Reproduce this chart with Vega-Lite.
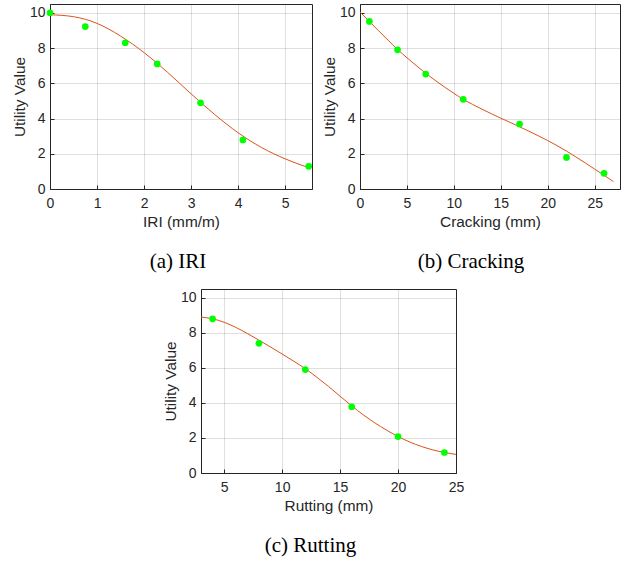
{
  "$schema": "https://vega.github.io/schema/vega-lite/v6.json",
  "background": "white",
  "padding": {"left": 11, "top": 3, "right": 0, "bottom": 0},
  "config": {
    "view": {"stroke": "#262626", "strokeWidth": 1},
    "axis": {
      "labelFont": "Liberation Sans", "titleFont": "Liberation Sans",
      "labelFontSize": 14, "titleFontSize": 15.4, "titleFontWeight": "normal",
      "labelColor": "#262626", "titleColor": "#262626",
      "domainColor": "#262626", "tickColor": "#262626",
      "gridColor": "#262626", "gridOpacity": 0.15,
      "tickSize": -4, "labelFlush": false, "labelOverlap": false
    },
    "axisX": {"labelPadding": 11, "titlePadding": 4},
    "axisY": {"labelPadding": 9, "titlePadding": 2},
    "title": {"font": "Liberation Serif", "fontSize": 21, "fontWeight": "normal", "color": "#000000", "orient": "bottom", "frame": "group", "anchor": "middle", "offset": 22}
  },
  "datasets": {
    "iriPts": [
      {"x": 0, "y": 10}, {"x": 0.75, "y": 9.22}, {"x": 1.6, "y": 8.3}, {"x": 2.28, "y": 7.1},
      {"x": 3.2, "y": 4.89}, {"x": 4.1, "y": 2.78}, {"x": 5.5, "y": 1.29}
    ],
    "iriFit": [
      {"x": 0, "y": 9.89}, {"x": 0.5, "y": 9.78}, {"x": 1, "y": 9.4}, {"x": 1.5, "y": 8.68},
      {"x": 2, "y": 7.74}, {"x": 2.5, "y": 6.62}, {"x": 3, "y": 5.4}, {"x": 3.5, "y": 4.23},
      {"x": 4, "y": 3.19}, {"x": 4.5, "y": 2.35}, {"x": 5, "y": 1.71}, {"x": 5.5, "y": 1.21}
    ],
    "crkPts": [
      {"x": 1, "y": 9.51}, {"x": 4, "y": 7.9}, {"x": 7, "y": 6.52}, {"x": 11, "y": 5.09},
      {"x": 17, "y": 3.69}, {"x": 22, "y": 1.79}, {"x": 26, "y": 0.89}
    ],
    "crkFit": [
      {"x": 0, "y": 10.05}, {"x": 1, "y": 9.5}, {"x": 2, "y": 8.97}, {"x": 3, "y": 8.44},
      {"x": 4, "y": 7.92}, {"x": 5, "y": 7.45}, {"x": 6, "y": 7.0}, {"x": 7, "y": 6.57},
      {"x": 8, "y": 6.17}, {"x": 9, "y": 5.79}, {"x": 10, "y": 5.43}, {"x": 11, "y": 5.09},
      {"x": 12, "y": 4.8}, {"x": 13, "y": 4.53}, {"x": 14, "y": 4.27}, {"x": 15, "y": 4.02},
      {"x": 16, "y": 3.78}, {"x": 17, "y": 3.53}, {"x": 18, "y": 3.28}, {"x": 19, "y": 3.02},
      {"x": 20, "y": 2.75}, {"x": 21, "y": 2.46}, {"x": 22, "y": 2.15}, {"x": 23, "y": 1.82},
      {"x": 24, "y": 1.48}, {"x": 25, "y": 1.13}, {"x": 26, "y": 0.78}, {"x": 27, "y": 0.42}
    ],
    "rutPts": [
      {"x": 4, "y": 8.8}, {"x": 8, "y": 7.4}, {"x": 12, "y": 5.9}, {"x": 16, "y": 3.78},
      {"x": 20, "y": 2.08}, {"x": 24, "y": 1.17}
    ],
    "rutFit": [
      {"x": 3, "y": 8.9}, {"x": 4, "y": 8.8}, {"x": 5, "y": 8.6}, {"x": 6, "y": 8.31},
      {"x": 7, "y": 7.96}, {"x": 8, "y": 7.58}, {"x": 9, "y": 7.19}, {"x": 10, "y": 6.79},
      {"x": 11, "y": 6.38}, {"x": 12, "y": 5.95}, {"x": 13, "y": 5.46}, {"x": 14, "y": 4.94},
      {"x": 15, "y": 4.38}, {"x": 16, "y": 3.83}, {"x": 17, "y": 3.32}, {"x": 18, "y": 2.86},
      {"x": 19, "y": 2.45}, {"x": 20, "y": 2.08}, {"x": 21, "y": 1.77}, {"x": 22, "y": 1.52},
      {"x": 23, "y": 1.32}, {"x": 24, "y": 1.17}, {"x": 25, "y": 1.06}
    ]
  },
  "spacing": 15,
  "vconcat": [
    {
      "spacing": 8,
      "hconcat": [
        {
          "width": 262, "height": 185,
          "title": {"text": "(a) IRI", "dx": -3},
          "encoding": {
            "x": {"field": "x", "type": "quantitative", "title": "IRI (mm/m)",
                  "scale": {"domain": [0, 5.57], "nice": false, "zero": false},
                  "axis": {"values": [0, 1, 2, 3, 4, 5]}},
            "y": {"field": "y", "type": "quantitative", "title": "Utility Value",
                  "scale": {"domain": [0, 10.5], "nice": false},
                  "axis": {"values": [0, 2, 4, 6, 8, 10]}}
          },
          "layer": [
            {"data": {"name": "iriFit"}, "mark": {"type": "line", "color": "#D95319", "strokeWidth": 1, "interpolate": "monotone"}},
            {"data": {"name": "iriPts"}, "mark": {"type": "circle", "color": "#00FF00", "size": 45, "opacity": 1}}
          ]
        },
        {
          "width": 260, "height": 185,
          "title": {"text": "(b) Cracking", "dx": -19},
          "encoding": {
            "x": {"field": "x", "type": "quantitative", "title": "Cracking (mm)",
                  "scale": {"domain": [0, 27.7], "nice": false, "zero": false},
                  "axis": {"values": [0, 5, 10, 15, 20, 25]}},
            "y": {"field": "y", "type": "quantitative", "title": "Utility Value",
                  "scale": {"domain": [0, 10.5], "nice": false},
                  "axis": {"values": [0, 2, 4, 6, 8, 10]}}
          },
          "layer": [
            {"data": {"name": "crkFit"}, "mark": {"type": "line", "color": "#D95319", "strokeWidth": 1, "interpolate": "monotone"}},
            {"data": {"name": "crkPts"}, "mark": {"type": "circle", "color": "#00FF00", "size": 45, "opacity": 1}}
          ]
        }
      ]
    },
    {
      "spacing": 0,
      "hconcat": [
        {
          "width": 112, "height": 184,
          "data": {"values": [{"x": 0}]},
          "mark": {"type": "point", "opacity": 0},
          "encoding": {},
          "view": {"stroke": null, "fill": "white"}
        },
        {
          "width": 255, "height": 184,
          "title": {"text": "(c) Rutting", "dx": -18},
          "encoding": {
            "x": {"field": "x", "type": "quantitative", "title": "Rutting (mm)",
                  "scale": {"domain": [3, 25], "nice": false, "zero": false},
                  "axis": {"values": [5, 10, 15, 20, 25]}},
            "y": {"field": "y", "type": "quantitative", "title": "Utility Value",
                  "scale": {"domain": [0, 10.5], "nice": false},
                  "axis": {"values": [0, 2, 4, 6, 8, 10]}}
          },
          "layer": [
            {"data": {"name": "rutFit"}, "mark": {"type": "line", "color": "#D95319", "strokeWidth": 1, "interpolate": "monotone"}},
            {"data": {"name": "rutPts"}, "mark": {"type": "circle", "color": "#00FF00", "size": 45, "opacity": 1}}
          ]
        }
      ]
    }
  ]
}
